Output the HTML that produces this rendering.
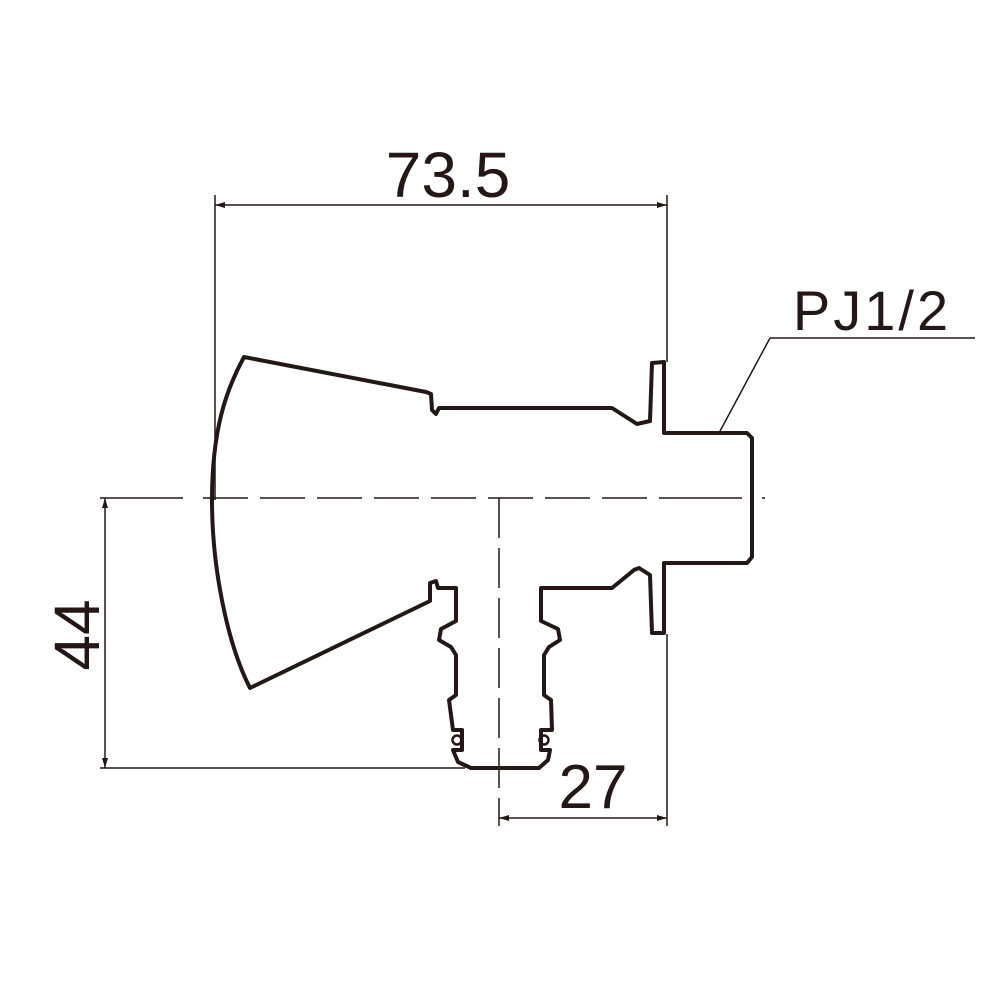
<!DOCTYPE html>
<html><head><style>body{margin:0;background:#fff}svg{display:block}</style></head>
<body>
<svg width="1000" height="1000" viewBox="0 0 1000 1000" xmlns="http://www.w3.org/2000/svg">
<defs>
<marker id="a" viewBox="0 0 10 6" refX="10" refY="3" markerWidth="10" markerHeight="6" orient="auto-start-reverse" markerUnits="userSpaceOnUse"><path d="M0,0L10,3L0,6z" fill="#231815"/></marker>
</defs>
<g stroke="#231815" fill="none" stroke-width="1.5">
<line x1="215" y1="195" x2="215" y2="500"/>
<line x1="667" y1="195" x2="667" y2="362"/>
<line x1="215" y1="205" x2="667" y2="205" marker-start="url(#a)" marker-end="url(#a)"/>
<line x1="667" y1="634" x2="667" y2="826"/>
<line x1="499" y1="818" x2="667" y2="818" marker-start="url(#a)" marker-end="url(#a)"/>
<line x1="100" y1="768" x2="465" y2="768"/>
<line x1="105" y1="498" x2="105" y2="768" marker-start="url(#a)" marker-end="url(#a)"/>
<line x1="100" y1="498" x2="765" y2="498" stroke-dasharray="83,20,45,12,45,12,45,12,45,12,45,12,45,12,45,12,45,12"/>
<line x1="499" y1="498" x2="499" y2="826" stroke-dasharray="40,10,40,10,40,10,40,10,40,10,40,10,40,10"/>
<polyline points="770,338 975,338"/>
<line x1="770" y1="338" x2="719" y2="433"/>
</g>
<path d="M244,357 L426,392 L431,394 L432,410 L436,414 L439,408 L612,408 L637,424 L650,421 L652,363 L664,362 L664,433 L747,433 L752,438 L752,557 L747,563 L664,563 L664,633 L652,633 L650,575 L639,568 L634,570 L612,588 L541,588 L541,621 L558,629 L560,640 L549,647 L544,655 L544,695 L551,700 L552,730 L541,730 L541,750 L550,750 L548,760 L539,768 L471,768 L458,762 L453,750 L462,750 L462,730 L453,730 L449,700 L456,695 L456,655 L451,647 L439,640 L441,629 L456,621 L456,588 L438,588 L436,581 L430,583 L430,601 L250,688 C228,645 212,570 212,500 C212,430 226,390 244,357 Z" fill="none" stroke="#231815" stroke-width="4" stroke-linejoin="round"/>
<circle cx="457" cy="740" r="4.5" fill="none" stroke="#231815" stroke-width="2.5"/>
<circle cx="544" cy="740" r="4.5" fill="none" stroke="#231815" stroke-width="2.5"/>
<g font-family="Liberation Sans, sans-serif" fill="#231815">
<text x="448" y="197" font-size="64" text-anchor="middle">73.5</text>
<text x="872" y="330" font-size="56" text-anchor="middle" letter-spacing="3">PJ1/2</text>
<text x="593" y="808" font-size="62" text-anchor="middle">27</text>
<text transform="translate(99,635) rotate(-90)" font-size="64" text-anchor="middle">44</text>
</g>
</svg>
</body></html>
